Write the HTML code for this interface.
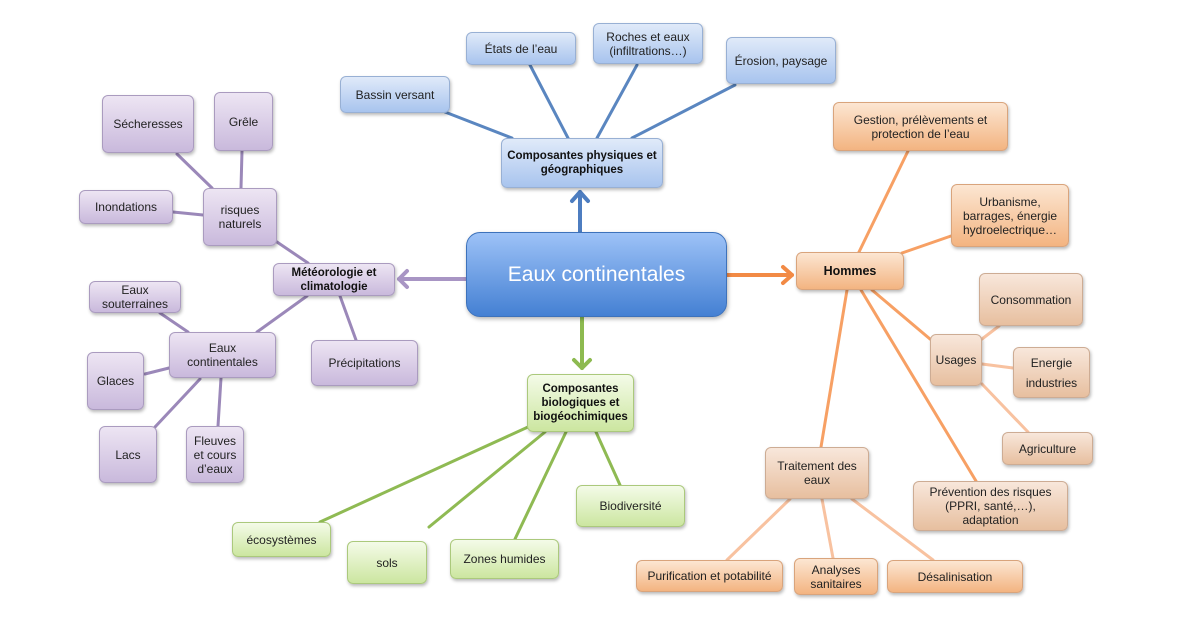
<!DOCTYPE html>
<html><head><meta charset="utf-8">
<style>
html,body{margin:0;padding:0;background:#fff;}
body{width:1200px;height:623px;position:relative;overflow:hidden;font-family:"Liberation Sans",sans-serif;}
svg{position:absolute;left:0;top:0;}
.b{position:absolute;box-sizing:border-box;border-radius:6px;display:flex;align-items:center;justify-content:center;text-align:center;font-size:12px;line-height:14px;color:#222;box-shadow:1px 2px 3px rgba(0,0,0,0.28);}
.bo{font-weight:bold;font-size:11.5px;color:#111;}
.bl{background:linear-gradient(#e0eaf9,#a8c4ee);border:1px solid #98b0d4;}
.pu{background:linear-gradient(#ede5f3,#c9b9dc);border:1px solid #aa9bbf;}
.gr{background:linear-gradient(#f4fbe8,#cce6a0);border:1px solid #abc97c;}
.or{background:linear-gradient(#fce6d2,#f3b481);border:1px solid #d9a47c;}
.tn{background:linear-gradient(#f8e7db,#e7bf9f);border:1px solid #cdac94;}
.main{position:absolute;left:466px;top:232px;width:261px;height:85px;box-sizing:border-box;border-radius:14px;background:linear-gradient(#9dc2f7,#4480d3);border:1px solid #3d72bb;box-shadow:1px 2px 4px rgba(0,0,0,0.3);color:#fff;font-size:21px;display:flex;align-items:center;justify-content:center;}
</style></head><body>
<svg width="1200" height="623" viewBox="0 0 1200 623">
<g stroke-width="3" fill="none" stroke-linecap="round">
<!-- blue -->
<g stroke="#5a86c0">
<line x1="445" y1="112" x2="512" y2="138"/>
<line x1="530" y1="65" x2="568" y2="138"/>
<line x1="637" y1="65" x2="597" y2="138"/>
<line x1="735" y1="85" x2="632" y2="138"/>
</g>
<!-- purple -->
<g stroke="#9b88b9">
<line x1="177" y1="154" x2="212" y2="188"/>
<line x1="242" y1="151" x2="241" y2="188"/>
<line x1="173" y1="212" x2="203" y2="215"/>
<line x1="277" y1="242" x2="308" y2="263"/>
<line x1="160" y1="313" x2="188" y2="332"/>
<line x1="145" y1="374" x2="169" y2="368"/>
<line x1="155" y1="427" x2="200" y2="379"/>
<line x1="218" y1="426" x2="221" y2="378"/>
<line x1="257" y1="332" x2="307" y2="296"/>
<line x1="340" y1="296" x2="356" y2="340"/>
</g>
<!-- green -->
<g stroke="#8fba53">
<line x1="320" y1="522" x2="528" y2="427"/>
<line x1="429" y1="527" x2="545" y2="432"/>
<line x1="515" y1="539" x2="566" y2="432"/>
<line x1="620" y1="485" x2="596" y2="432"/>
</g>
<!-- orange -->
<g stroke="#f7a064">
<line x1="908" y1="151" x2="859" y2="252"/>
<line x1="951" y1="236" x2="902" y2="253"/>
<line x1="847" y1="290" x2="821" y2="447"/>
<line x1="861" y1="290" x2="976" y2="481"/>
<line x1="872" y1="290" x2="930" y2="339"/>
</g>
<g stroke="#f8c2a0">
<line x1="982" y1="339" x2="999" y2="326"/>
<line x1="982" y1="364" x2="1013" y2="368"/>
<line x1="982" y1="384" x2="1028" y2="432"/>
<line x1="790" y1="499" x2="727" y2="560"/>
<line x1="822" y1="499" x2="833" y2="558"/>
<line x1="852" y1="499" x2="933" y2="560"/>
</g>
<!-- arrows -->
<g stroke-width="4" stroke-linejoin="round">
<line x1="580" y1="232" x2="580" y2="192" stroke="#4d7dc0"/>
<polyline points="572,201 580,192 588,201" stroke="#4d7dc0"/>
<line x1="727" y1="275" x2="792" y2="275" stroke="#f28a45"/>
<polyline points="783,267 792,275 783,283" stroke="#f28a45"/>
<line x1="582" y1="317" x2="582" y2="368" stroke="#8dba50"/>
<polyline points="574,360 582,368 590,360" stroke="#8dba50"/>
<line x1="466" y1="279" x2="399" y2="279" stroke="#a895c4"/>
<polyline points="407,271 399,279 407,287" stroke="#a895c4"/>
</g>
</g>
</svg>

<div class="main">Eaux continentales</div>

<!-- blue -->
<div class="b bl" style="left:340px;top:76px;width:110px;height:37px;">Bassin versant</div>
<div class="b bl" style="left:466px;top:32px;width:110px;height:33px;">États de l’eau</div>
<div class="b bl" style="left:593px;top:23px;width:110px;height:41px;">Roches et eaux<br>(infiltrations…)</div>
<div class="b bl" style="left:726px;top:37px;width:110px;height:47px;">Érosion, paysage</div>
<div class="b bl bo" style="left:501px;top:138px;width:162px;height:50px;">Composantes physiques et<br>géographiques</div>

<!-- purple -->
<div class="b pu" style="left:102px;top:95px;width:92px;height:58px;">Sécheresses</div>
<div class="b pu" style="left:214px;top:92px;width:59px;height:59px;">Grêle</div>
<div class="b pu" style="left:79px;top:190px;width:94px;height:34px;">Inondations</div>
<div class="b pu" style="left:203px;top:188px;width:74px;height:58px;">risques<br>naturels</div>
<div class="b pu bo" style="left:273px;top:263px;width:122px;height:33px;">Météorologie et<br>climatologie</div>
<div class="b pu" style="left:89px;top:281px;width:92px;height:32px;">Eaux<br>souterraines</div>
<div class="b pu" style="left:169px;top:332px;width:107px;height:46px;">Eaux<br>continentales</div>
<div class="b pu" style="left:87px;top:352px;width:57px;height:58px;">Glaces</div>
<div class="b pu" style="left:99px;top:426px;width:58px;height:57px;">Lacs</div>
<div class="b pu" style="left:186px;top:426px;width:58px;height:57px;">Fleuves<br>et cours<br>d’eaux</div>
<div class="b pu" style="left:311px;top:340px;width:107px;height:46px;">Précipitations</div>

<!-- green -->
<div class="b gr bo" style="left:527px;top:374px;width:107px;height:58px;">Composantes<br>biologiques et<br>biogéochimiques</div>
<div class="b gr" style="left:232px;top:522px;width:99px;height:35px;">écosystèmes</div>
<div class="b gr" style="left:347px;top:541px;width:80px;height:43px;">sols</div>
<div class="b gr" style="left:450px;top:539px;width:109px;height:40px;">Zones humides</div>
<div class="b gr" style="left:576px;top:485px;width:109px;height:42px;">Biodiversité</div>

<!-- orange -->
<div class="b or bo" style="left:796px;top:252px;width:108px;height:38px;font-size:12.5px;">Hommes</div>
<div class="b or" style="left:833px;top:102px;width:175px;height:49px;">Gestion, prélèvements et<br>protection de l’eau</div>
<div class="b or" style="left:951px;top:184px;width:118px;height:63px;">Urbanisme,<br>barrages, énergie<br>hydroelectrique…</div>
<div class="b tn" style="left:979px;top:273px;width:104px;height:53px;">Consommation</div>
<div class="b tn" style="left:930px;top:334px;width:52px;height:52px;">Usages</div>
<div class="b tn" style="left:1013px;top:347px;width:77px;height:51px;line-height:20px;">Energie<br>industries</div>
<div class="b tn" style="left:1002px;top:432px;width:91px;height:33px;">Agriculture</div>
<div class="b tn" style="left:913px;top:481px;width:155px;height:50px;">Prévention des risques<br>(PPRI, santé,…),<br>adaptation</div>
<div class="b tn" style="left:765px;top:447px;width:104px;height:52px;">Traitement des<br>eaux</div>
<div class="b or" style="left:636px;top:560px;width:147px;height:32px;">Purification et potabilité</div>
<div class="b or" style="left:794px;top:558px;width:84px;height:37px;">Analyses<br>sanitaires</div>
<div class="b or" style="left:887px;top:560px;width:136px;height:33px;">Désalinisation</div>
</body></html>
